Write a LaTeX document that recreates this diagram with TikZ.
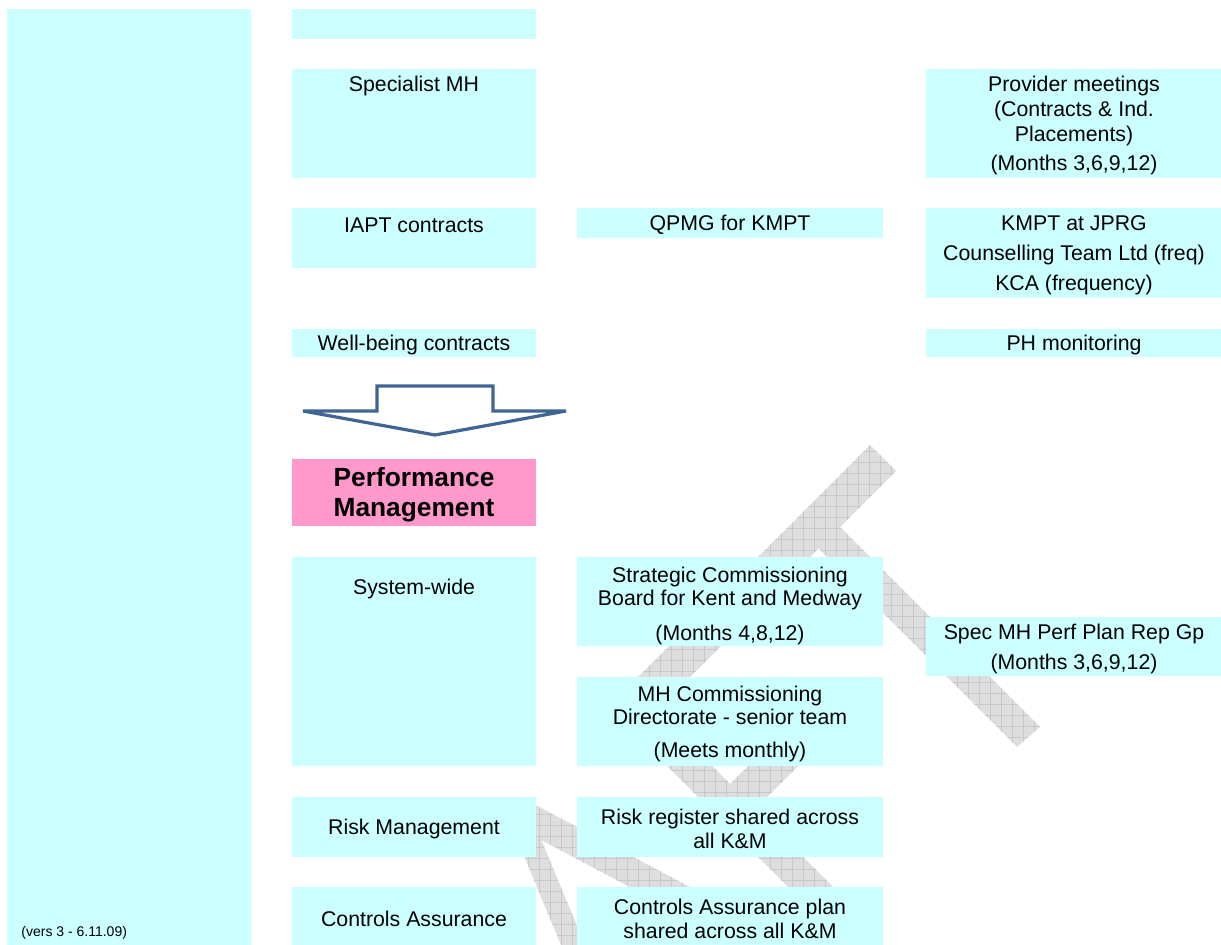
\documentclass[tikz,border=0pt]{standalone}
\usepackage{fontspec}
\setmainfont{Liberation Sans}

\definecolor{boxcyan}{HTML}{CCFFFF}
\definecolor{boxpink}{HTML}{FF99CC}
\definecolor{wmgray}{HTML}{DEDEDE}
\definecolor{wmline}{HTML}{C8C8C8}
\definecolor{arrowblue}{HTML}{3F6593}

\begin{document}
\begin{tikzpicture}[x=0.5pt, y=-0.5pt,
    box/.style={fill=boxcyan, inner sep=0pt, anchor=north west},
    txt/.style={align=center, inner sep=0pt, yshift=-1pt, font=\fontsize{10.65}{11.5}\selectfont},
    wm/.style={fill=wmgray, path picture={\draw[wmline, line width=0.3pt, step=5.5pt]
        (path picture bounding box.south west) grid (path picture bounding box.north east);}}]
    \useasboundingbox (0,0) rectangle (1221,945);

    % Watermark strokes (behind the boxes)
    \path [wm] (870,445) -- (896,471) -- (647,720) -- (595,720) -- cycle;
    \path [wm] (828,515) -- (1040,727) -- (1017,747) -- (810,540) -- cycle;
    \path [wm] (591,690) -- (636,690) -- (871,925) -- (826,925) -- cycle;
    \path [wm] (824,690) -- (874,690) -- (764,800) -- (714,800) -- cycle;
    \path [wm] (528,801) -- (720,903) -- (720,935) -- (528,833) -- cycle;
    \path [wm] (507,815) -- (531,815) -- (585,945) -- (561,945) -- cycle;

    % Boxes {left column, then columns 2, 3, 4}
    \node [box, minimum width=122pt,   minimum height=468pt]  (side)   at (7,9)     {};
    \node [box, minimum width=122pt,   minimum height=15pt]   (head)   at (292,9)   {};
    \node [box, minimum width=122pt,   minimum height=54.5pt] (spec)   at (292,69)  {};
    \node [box, minimum width=122pt,   minimum height=30pt]   (iapt)   at (292,208) {};
    \node [box, minimum width=122pt,   minimum height=14pt]   (well)   at (292,329) {};
    \node [box, minimum width=122pt,   minimum height=33.5pt, fill=boxpink] (perf) at (292,459) {};
    \node [box, minimum width=122pt,   minimum height=104.5pt](sysw)   at (292,557) {};
    \node [box, minimum width=122pt,   minimum height=30pt]   (riskm)  at (292,797) {};
    \node [box, minimum width=122pt,   minimum height=29pt]   (ctrla)  at (292,887) {};
    \node [box, minimum width=153pt,   minimum height=15pt]   (qpmg)   at (577,208) {};
    \node [box, minimum width=153pt,   minimum height=44.5pt] (scb)    at (577,557) {};
    \node [box, minimum width=153pt,   minimum height=44.5pt] (mhcd)   at (577,677) {};
    \node [box, minimum width=153pt,   minimum height=30pt]   (rreg)   at (577,797) {};
    \node [box, minimum width=153pt,   minimum height=29pt]   (caplan) at (577,887) {};
    \node [box, minimum width=147.5pt, minimum height=54.5pt] (prov)   at (926,69)  {};
    \node [box, minimum width=147.5pt, minimum height=45pt]   (kmpt)   at (926,208) {};
    \node [box, minimum width=147.5pt, minimum height=14pt]   (phm)    at (926,329) {};
    \node [box, minimum width=147.5pt, minimum height=29.5pt] (smpp)   at (926,617) {};

    % Texts
    \node [txt] (spec-t)   at (414,84)   {Specialist MH};
    \node [txt] (iapt-t)   at (414,223)  {IAPT contracts};
    \node [txt] (well-t)   at (414,343)  {Well-being contracts};
    \node [txt, yshift=-0.5pt, font=\bfseries\fontsize{13.15}{15}\selectfont] (perf-t) at (414,492) {Performance\\Management};
    \node [txt] (sysw-t)   at (414,587)  {System-wide};
    \node [txt] (riskm-t)  at (414,827)  {Risk Management};
    \node [txt] (ctrla-t)  at (414,917)  {Controls Assurance};
    \node [txt] (qpmg-t)   at (730,223)  {QPMG for KMPT};
    \node [txt] (scb-t)    at (730,604)  {Strategic Commissioning\\Board for Kent and Medway\\[6pt](Months 4,8,12)};
    \node [txt] (mhcd-t)   at (730,722)  {MH Commissioning\\Directorate - senior team\\[5pt](Meets monthly)};
    \node [txt] (rreg-t)   at (730,827)  {Risk register shared across\\[0.5pt]all K\&M};
    \node [txt] (caplan-t) at (730,917)  {Controls Assurance plan\\[0.5pt]shared across all K\&M};
    \node [txt] (prov-t)   at (1074,123) {Provider meetings\\[1pt](Contracts \& Ind.\\[1pt]Placements)\\[3pt](Months 3,6,9,12)};
    \node [txt] (kmpt-t)   at (1074,253) {KMPT at JPRG\\[3.5pt]Counselling Team Ltd (freq)\\[3.5pt]KCA (frequency)};
    \node [txt] (phm-t)    at (1074,343) {PH monitoring};
    \node [txt] (smpp-t)   at (1074,647) {Spec MH Perf Plan Rep Gp\\[3.5pt](Months 3,6,9,12)};
    \node [anchor=west, inner sep=0pt, font=\fontsize{7}{8}\selectfont] (vers) at (21,933) {(vers 3 - 6.11.09)};

    % Block arrow down to Performance Management
    \draw [arrowblue, line width=1.6pt, fill=white, line join=miter]
        (377,386) -- (493,386) -- (493,411) -- (566,411) -- (435,435) -- (303,411) -- (377,411) -- cycle;
\end{tikzpicture}
\end{document}
